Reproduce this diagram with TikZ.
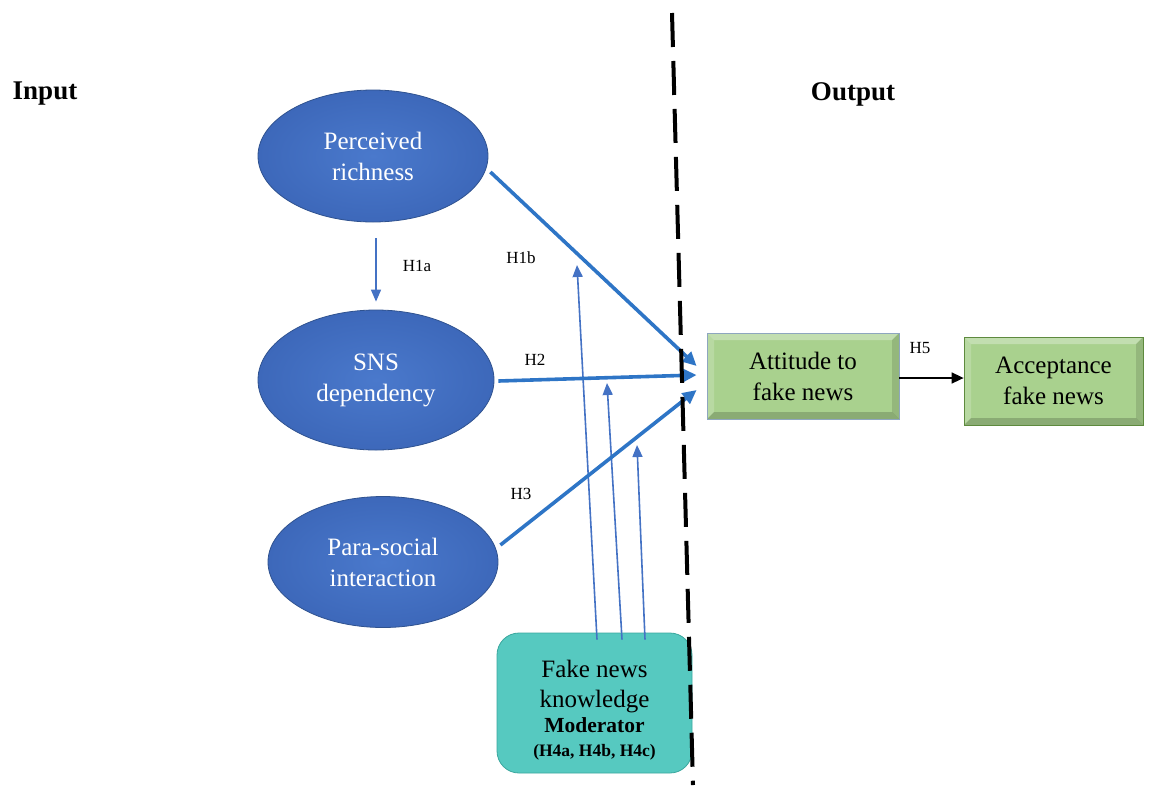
\documentclass[tikz,border=0pt]{standalone}
\usepackage{fontspec}
\setmainfont{Liberation Serif}
\usetikzlibrary{arrows.meta,shapes.geometric,calc}

\definecolor{ellin}{HTML}{4A79CC}
\definecolor{ellout}{HTML}{3D68BA}
\definecolor{ellline}{HTML}{2F528F}
\definecolor{boxgreen}{HTML}{A9D18E}
\definecolor{boxteal}{HTML}{56C9C0}
\definecolor{tealline}{HTML}{3AA79E}
\definecolor{arrowblue}{HTML}{2E75C6}
\definecolor{thinblue}{HTML}{4472C4}
\definecolor{attline}{HTML}{8EA6BF}
\definecolor{accline}{HTML}{5E8A3E}

\begin{document}
\begin{tikzpicture}[x=1pt,y=-1pt,
  latent/.style={ellipse, inner sep=0pt, minimum width=230pt, minimum height=132pt,
    inner color=ellin, outer color=ellout, draw=ellline, line width=0.8pt,
    text=white, align=center, font=\fontsize{25}{31}\selectfont},
  bevel/.style={path picture={
    \coordinate (nw) at (path picture bounding box.north west);
    \coordinate (ne) at (path picture bounding box.north east);
    \coordinate (sw) at (path picture bounding box.south west);
    \coordinate (se) at (path picture bounding box.south east);
    \fill[white,opacity=0.30] (nw) -- (ne) -- ($(ne)+(-7,7)$) -- ($(nw)+(7,7)$) -- cycle;
    \fill[white,opacity=0.18] (nw) -- (sw) -- ($(sw)+(7,-7)$) -- ($(nw)+(7,7)$) -- cycle;
    \fill[black,opacity=0.18] (sw) -- (se) -- ($(se)+(-7,-7)$) -- ($(sw)+(7,-7)$) -- cycle;
    \fill[black,opacity=0.12] (ne) -- (se) -- ($(se)+(-7,-7)$) -- ($(ne)+(-7,7)$) -- cycle;
  }},
  outbox/.style={rectangle, bevel, fill=boxgreen, align=center, inner sep=0pt,
    font=\fontsize{25}{31}\selectfont},
  modbox/.style={rectangle, rounded corners=22pt, fill=boxteal, draw=tealline, line width=0.8pt,
    minimum width=195pt, minimum height=140pt, align=center, inner sep=0pt,
    font=\fontsize{25}{29}\selectfont},
  hlabel/.style={font=\fontsize{17}{20}\selectfont, inner sep=0pt},
  headlabel/.style={font=\fontsize{27}{30}\selectfont\bfseries, inner sep=0pt},
  thickarrow/.style={draw=arrowblue, line width=3.6pt,
    -{Triangle[length=14pt,width=13pt]}},
  thinarrow/.style={draw=thinblue, line width=1.6pt,
    -{Triangle[length=12pt,width=10pt]}},
  blackarrow/.style={draw=black, line width=1.6pt,
    -{Triangle[length=12pt,width=11pt]}},
  divider/.style={draw=black, line width=4pt, dash pattern=on 34pt off 14pt}
]
\useasboundingbox (0,0) rectangle (1150,785);

% headings
\node[headlabel] (input) at (45,94) {Input};
\node[headlabel] (output) at (853,94) {Output};

% latent constructs
\node[latent] (p1) at (373,156) {Perceived\\richness};
\node[latent, minimum width=236pt, minimum height=140pt] (sns) at (376,380) {SNS\\dependency};
\node[latent, minimum height=131pt] (psi) at (383,562) {Para-social\\interaction};

% outcome boxes
\node[outbox, draw=attline, line width=0.8pt,
  minimum width=192pt, minimum height=86pt] (att) at (803,376) {Attitude to\\fake news};
\node[outbox, draw=accline, line width=0.8pt,
  minimum width=179pt, minimum height=88pt] (acc) at (1053.5,381) {Acceptance\\fake news};

% moderator (strut on the first line lowers the text block a little)
\node[modbox] (mod) at (594.5,703) {%
  \rule{0pt}{31pt}Fake news\\[1pt]
  knowledge\\[-4pt]
  {\fontsize{21.5}{24}\selectfont\bfseries Moderator}\\[-5pt]
  {\fontsize{17.5}{20}\selectfont\bfseries (H4a,\ H4b,\ H4c)}};

% moderator targets on the direct paths
\coordinate (m1) at (577,265);
\coordinate (m2) at (607,383);
\coordinate (m3) at (637,445);

% hypothesis paths
\draw[thinarrow] ($(p1.south)+(3,16)$) -- ($(sns.north)+(0,-8)$);
\draw[thinarrow] ($(mod.north)+(2.5,7)$) -- (m1);
\draw[thinarrow] ($(mod.north)+(27.5,7)$) -- (m2);
\draw[thinarrow] ($(mod.north)+(50.5,7)$) -- (m3);
\draw[thickarrow] ($(p1.east)+(2,16)$) -- ($(att.west)+(-10,-10)$);
\draw[thickarrow] ($(sns.east)+(4,1)$) -- ($(att.west)+(-10,-1)$);
\draw[thickarrow] ($(psi.east)+(2,-17)$) -- ($(att.west)+(-10,14)$);
\draw[blackarrow] ($(att.east)+(0,2)$) -- ($(att.east -| acc.west)+(0,2)$);

% hypothesis labels
\node[hlabel] (h1a) at (417,266) {H1a};
\node[hlabel] (h1b) at (521,258) {H1b};
\node[hlabel] (h2) at (535,360) {H2};
\node[hlabel] (h3) at (521,494) {H3};
\node[hlabel] (h5) at (920,348) {H5};

% input / output divider
\coordinate (dtop) at (672,13);
\coordinate (dbot) at (693,785);
\draw[divider] (dtop) -- (dbot);
\end{tikzpicture}
\end{document}
